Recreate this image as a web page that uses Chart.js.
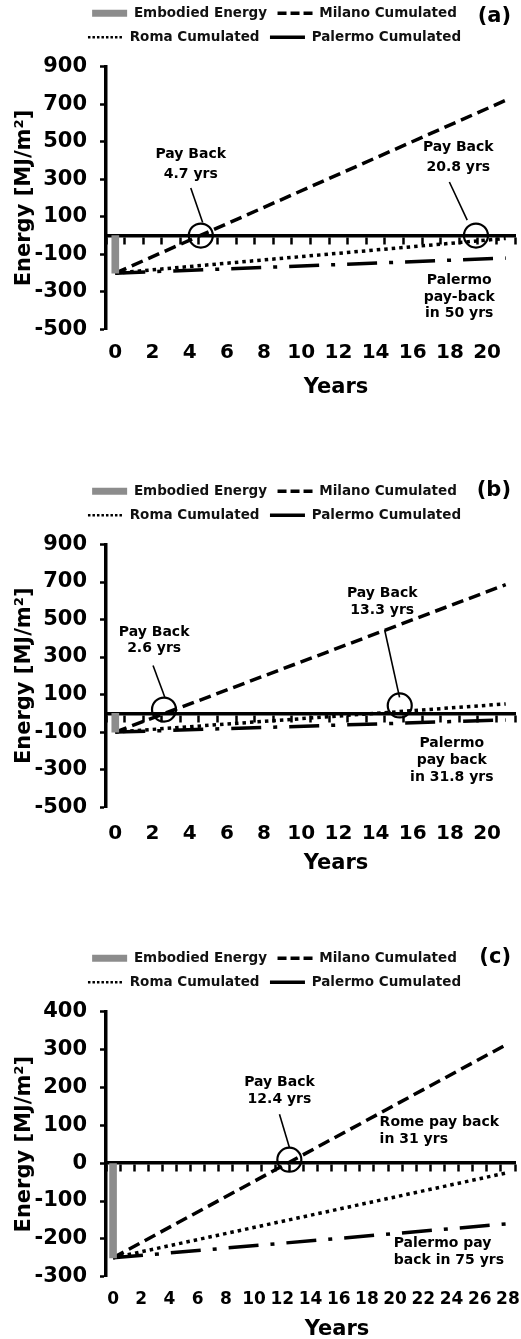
<!DOCTYPE html>
<html lang="en">
<head>
<meta charset="UTF-8">
<title>Embodied energy pay back</title>
<script src="https://cdn.jsdelivr.net/npm/chart.js"></script>
<style>
  body { margin: 0; background: #fff; width: 521px; height: 1339px; position: relative; overflow: hidden; }
  .panel { position: absolute; left: 0; width: 521px; }
</style>
</head>
<body>
<div class="panel" style="top:-4px;height:404px"><canvas id="chartA"></canvas></div>
<div class="panel" style="top:474px;height:404px"><canvas id="chartB"></canvas></div>
<div class="panel" style="top:941px;height:399px"><canvas id="chartC"></canvas></div>

<script>
// years on the category axis
const yearsAB = ['0','1','2','3','4','5','6','7','8','9','10','11','12','13','14','15','16','17','18','19','20','21'];
const yearsC = ['0','1','2','3','4','5','6','7','8','9','10','11','12','13','14','15','16','17','18','19','20','21','22','23','24','25','26','27','28'];

// cumulated lines are read at the first and last year
const lineYearsAB = ['0', '21'];
const lineYearsC = ['0', '28'];

// panel (a)  [MJ/m2]
const embodiedA = [-200];
const milanoA = [-200, 720];
const romaA = [-200, -15];
const palermoA = [-200, -120];

// panel (b)
const embodiedB = [-100];
const milanoB = [-100, 686];
const romaB = [-100, 50];
const palermoB = [-100, -35];

// panel (c)
const embodiedC = [-250];
const milanoC = [-250, 315];
const romaC = [-250, -25];
const palermoC = [-250, -160];

Chart.defaults.font.family = "'DejaVu Sans', Verdana, sans-serif";
Chart.defaults.font.weight = 'bold';
Chart.defaults.color = '#000';

const grey = '#8c8c8c';

// how each legend entry is drawn (Palermo shows a plain line in the key)
const legendLook = [
  { pointStyle: 'rect', fillStyle: grey, strokeStyle: grey, lineWidth: 0, lineDash: [] },
  { pointStyle: 'line', strokeStyle: '#000', lineWidth: 3.5, lineDash: [9, 4] },
  { pointStyle: 'line', strokeStyle: '#000', lineWidth: 2.5, lineDash: [2.5, 2] },
  { pointStyle: 'line', strokeStyle: '#000', lineWidth: 3.5, lineDash: [] }
];

// panel letter, x title, pay back circles, leader lines and notes
const notesPlugin = {
  id: 'notes',
  afterInit(chart, args, opts) {
    const legend = chart.legend;
    const fit = legend.fit;
    legend.fit = function () {
      fit.call(this);
      this.height += opts.legendGap;
    };
  },
  afterLayout(chart, args, opts) {
    chart.legend.left += opts.legendShift;
    chart.legend.right += opts.legendShift;
  },
  afterDraw(chart, args, opts) {
    const { ctx, chartArea } = chart;
    const x = chart.scales.x, y = chart.scales.y;
    ctx.save();
    ctx.fillStyle = '#000';
    ctx.strokeStyle = '#000';
    ctx.textBaseline = 'middle';

    ctx.font = "bold 21px 'DejaVu Sans'";
    ctx.textAlign = 'right';
    ctx.fillText(opts.tag, 511, opts.tagY);
    ctx.textAlign = 'center';
    ctx.fillText('Years', opts.titleX, chartArea.bottom + opts.titleDy);

    ctx.lineWidth = 1.6;
    opts.leaders.forEach(l => {
      ctx.beginPath();
      ctx.moveTo(x.getPixelForValue(l[0]), y.getPixelForValue(l[1]));
      ctx.lineTo(x.getPixelForValue(l[2]), y.getPixelForValue(l[3]));
      ctx.stroke();
    });

    ctx.lineWidth = 2.2;
    opts.circles.forEach(c => {
      ctx.beginPath();
      ctx.arc(x.getPixelForValue(c[0]), y.getPixelForValue(c[1]), 12, 0, Math.PI * 2);
      ctx.stroke();
    });

    ctx.font = "bold 14px 'DejaVu Sans'";
    opts.labels.forEach(lb => {
      ctx.textAlign = lb.align || 'center';
      lb.lines.forEach((t, i) => {
        ctx.fillText(t, x.getPixelForValue(lb.x), y.getPixelForValue(lb.y[i]));
      });
    });
    ctx.restore();
  }
};

function ends(years, values) {
  return values.map((v, i) => ({ x: years[i], y: v }));
}

function makeChart(id, p) {
  return new Chart(document.getElementById(id), {
    type: 'bar',
    data: {
      labels: p.years,
      datasets: [
        { label: 'Embodied Energy', data: p.embodied, backgroundColor: grey, barThickness: 7 },
        { type: 'line', label: 'Milano Cumulated', data: ends(p.lineYears, p.milano),
          borderColor: '#000', borderWidth: 3.5, borderDash: [12, 6], pointRadius: 0, tension: 0 },
        { type: 'line', label: 'Roma Cumulated', data: ends(p.lineYears, p.roma),
          borderColor: '#000', borderWidth: 3.5, borderDash: [3.5, 4], pointRadius: 0, tension: 0 },
        { type: 'line', label: 'Palermo Cumulated', data: ends(p.lineYears, p.palermo),
          borderColor: '#000', borderWidth: 3.5, borderDash: [30, 12, 4, 12], pointRadius: 0, tension: 0 }
      ]
    },
    options: {
      responsive: true,
      maintainAspectRatio: false,
      animation: false,
      layout: { padding: { left: 8, right: 6, top: 0, bottom: p.padBottom } },
      plugins: {
        legend: {
          position: 'top',
          labels: {
            usePointStyle: true,
            pointStyleWidth: 35,
            boxHeight: 7,
            padding: 10.5,
            color: '#111',
            font: { size: 13.5, weight: 'bold' },
            generateLabels(chart) {
              return Chart.defaults.plugins.legend.labels.generateLabels(chart)
                .map((item, i) => Object.assign(item, legendLook[i]));
            }
          }
        },
        tooltip: { enabled: false },
        notes: p.notes
      },
      scales: {
        x: {
          type: 'category',
          position: 'bottom',
          offset: true,
          grid: { display: false, drawTicks: true, tickLength: p.xPad },
          border: { display: false },
          ticks: {
            autoSkip: false,
            maxRotation: 0,
            padding: 0,
            font: { size: p.xFont },
            callback(value, index) {
              return index % 2 === 0 ? this.getLabelForValue(value) : '';
            }
          }
        },
        x2: {
          type: 'category',
          position: { y: 0 },
          offset: true,
          grid: { display: true, offset: true, drawOnChartArea: false, drawTicks: true,
                  tickLength: 7, tickWidth: 2.5, tickColor: '#000' },
          border: { display: true, width: 3.5, color: '#000' },
          ticks: { display: false }
        },
        y: {
          min: p.yMin,
          max: p.yMax,
          afterFit(scale) { scale.width = 98; },
          ticks: { stepSize: p.yStep, padding: 13, font: { size: 21 } },
          grid: { drawOnChartArea: false, tickLength: 6, tickWidth: 2.5, tickColor: '#000' },
          border: { display: true, width: 3.5, color: '#000' },
          title: { display: true, text: 'Energy [MJ/m²]', font: { size: 21 }, padding: { top: 4, bottom: 0 } }
        }
      }
    },
    plugins: [notesPlugin]
  });
}

makeChart('chartA', {
  years: yearsAB, lineYears: lineYearsAB,
  embodied: embodiedA, milano: milanoA, roma: romaA, palermo: palermoA,
  yMin: -500, yMax: 900, yStep: 200, xFont: 20, xPad: 11.5, padBottom: 35,
  notes: {
    legendGap: 12.5, legendShift: 13,
    tag: '(a)', tagY: 21, titleX: 336, titleDy: 58,
    circles: [[4.6, 0], [19.4, 0]],
    leaders: [[4.06, 253, 4.7, 70], [17.97, 285, 18.93, 82]],
    labels: [
      { x: 4.06, y: [430, 328], lines: ['Pay Back', '4.7 yrs'] },
      { x: 18.45, y: [467, 365], lines: ['Pay Back', '20.8 yrs'] },
      { x: 18.5, y: [-239, -330, -416], lines: ['Palermo', 'pay-back', 'in 50 yrs'] }
    ]
  }
});

makeChart('chartB', {
  years: yearsAB, lineYears: lineYearsAB,
  embodied: embodiedB, milano: milanoB, roma: romaB, palermo: palermoB,
  yMin: -500, yMax: 900, yStep: 200, xFont: 20, xPad: 14.4, padBottom: 32.5,
  notes: {
    legendGap: 12.5, legendShift: 13,
    tag: '(b)', tagY: 17, titleX: 336, titleDy: 56,
    circles: [[2.62, 20], [15.3, 42]],
    leaders: [[2.03, 255, 2.67, 84], [14.49, 444, 15.29, 85]],
    labels: [
      { x: 2.09, y: [433, 347], lines: ['Pay Back', '2.6 yrs'] },
      { x: 14.36, y: [642, 551], lines: ['Pay Back', '13.3 yrs'] },
      { x: 18.1, y: [-162, -253, -344], lines: ['Palermo', 'pay back', 'in 31.8 yrs'] }
    ]
  }
});

makeChart('chartC', {
  years: yearsC, lineYears: lineYearsC,
  embodied: embodiedC, milano: milanoC, roma: romaC, palermo: palermoC,
  yMin: -300, yMax: 400, yStep: 100, xFont: 17, xPad: 12.8, padBottom: 30,
  notes: {
    legendGap: 12.5, legendShift: 13,
    tag: '(c)', tagY: 17, titleX: 337, titleDy: 53,
    circles: [[12.5, 9]],
    leaders: [[11.8, 129, 12.5, 42]],
    labels: [
      { x: 11.8, y: [214, 169], lines: ['Pay Back', '12.4 yrs'] },
      { x: 18.9, y: [108, 63], lines: ['Rome pay back', 'in 31 yrs'], align: 'left' },
      { x: 19.9, y: [-211, -256], lines: ['Palermo pay', 'back in 75 yrs'], align: 'left' }
    ]
  }
});
</script>
</body>
</html>
